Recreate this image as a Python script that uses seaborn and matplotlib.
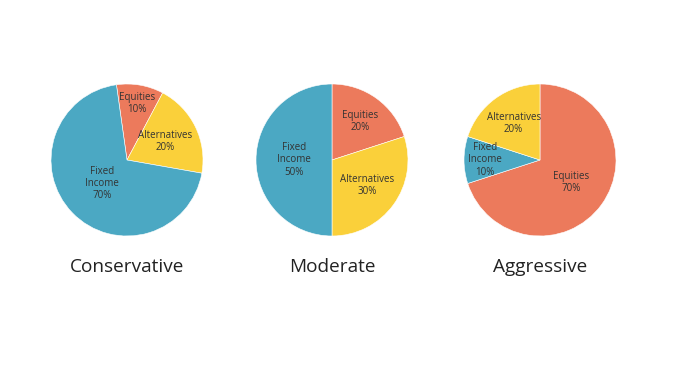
import matplotlib
matplotlib.use("Agg")
import matplotlib.pyplot as plt
import numpy as np
import seaborn as sns

# Data
portfolios = ["Conservative", "Moderate", "Aggressive"]
conservative_labels = ["Equities", "Alternatives", "Fixed\nIncome"]
conservative_values = [10, 20, 70]
moderate_labels = ["Equities", "Alternatives", "Fixed\nIncome"]
moderate_values = [20, 30, 50]
aggressive_labels = ["Equities", "Fixed\nIncome", "Alternatives"]
aggressive_values = [70, 10, 20]

sns.set_theme(style="white")
plt.rcParams["font.family"] = ["Open Sans", "DejaVu Sans"]

colors = {"Equities": "#EC7A5C", "Alternatives": "#FAD03A", "Fixed\nIncome": "#4BA8C3"}

# layout (pixels)
W, H = 681, 378
R = 76
centers_x = [127, 332, 540]
center_y = 160
start_angles = [98, 90, 90]
label_radius = [
    [0.75, 0.56, 0.45],
    [0.62, 0.57, 0.50],
    [0.50, 0.72, 0.59],
]

fig = plt.figure(figsize=(W / 100, H / 100), dpi=100)

all_labels = [conservative_labels, moderate_labels, aggressive_labels]
all_values = [conservative_values, moderate_values, aggressive_values]

for i, name in enumerate(portfolios):
    cx = centers_x[i]
    ax = fig.add_axes([(cx - R) / W, (H - center_y - R) / H, 2 * R / W, 2 * R / H])
    labels = all_labels[i]
    values = all_values[i]
    wedges, _ = ax.pie(
        values,
        colors=[colors[l] for l in labels],
        startangle=start_angles[i],
        counterclock=False,
        radius=1.0,
        wedgeprops=dict(edgecolor="white", linewidth=0.4),
    )
    for j, w in enumerate(wedges):
        mid = np.deg2rad((w.theta1 + w.theta2) / 2)
        r = label_radius[i][j]
        ax.text(r * np.cos(mid), r * np.sin(mid), f"{labels[j]}\n{values[j]}%",
                ha="center", va="center", fontsize=7, color="#333333",
                linespacing=1.15)
    ax.set_xlim(-1, 1)
    ax.set_ylim(-1, 1)
    ax.set_aspect("equal")
    ax.axis("off")
    fig.text(cx / W, 1 - 267 / H, name, ha="center", va="center",
             fontsize=13.7, color="#222222")

fig.savefig("out.png", dpi=100, facecolor="white")
